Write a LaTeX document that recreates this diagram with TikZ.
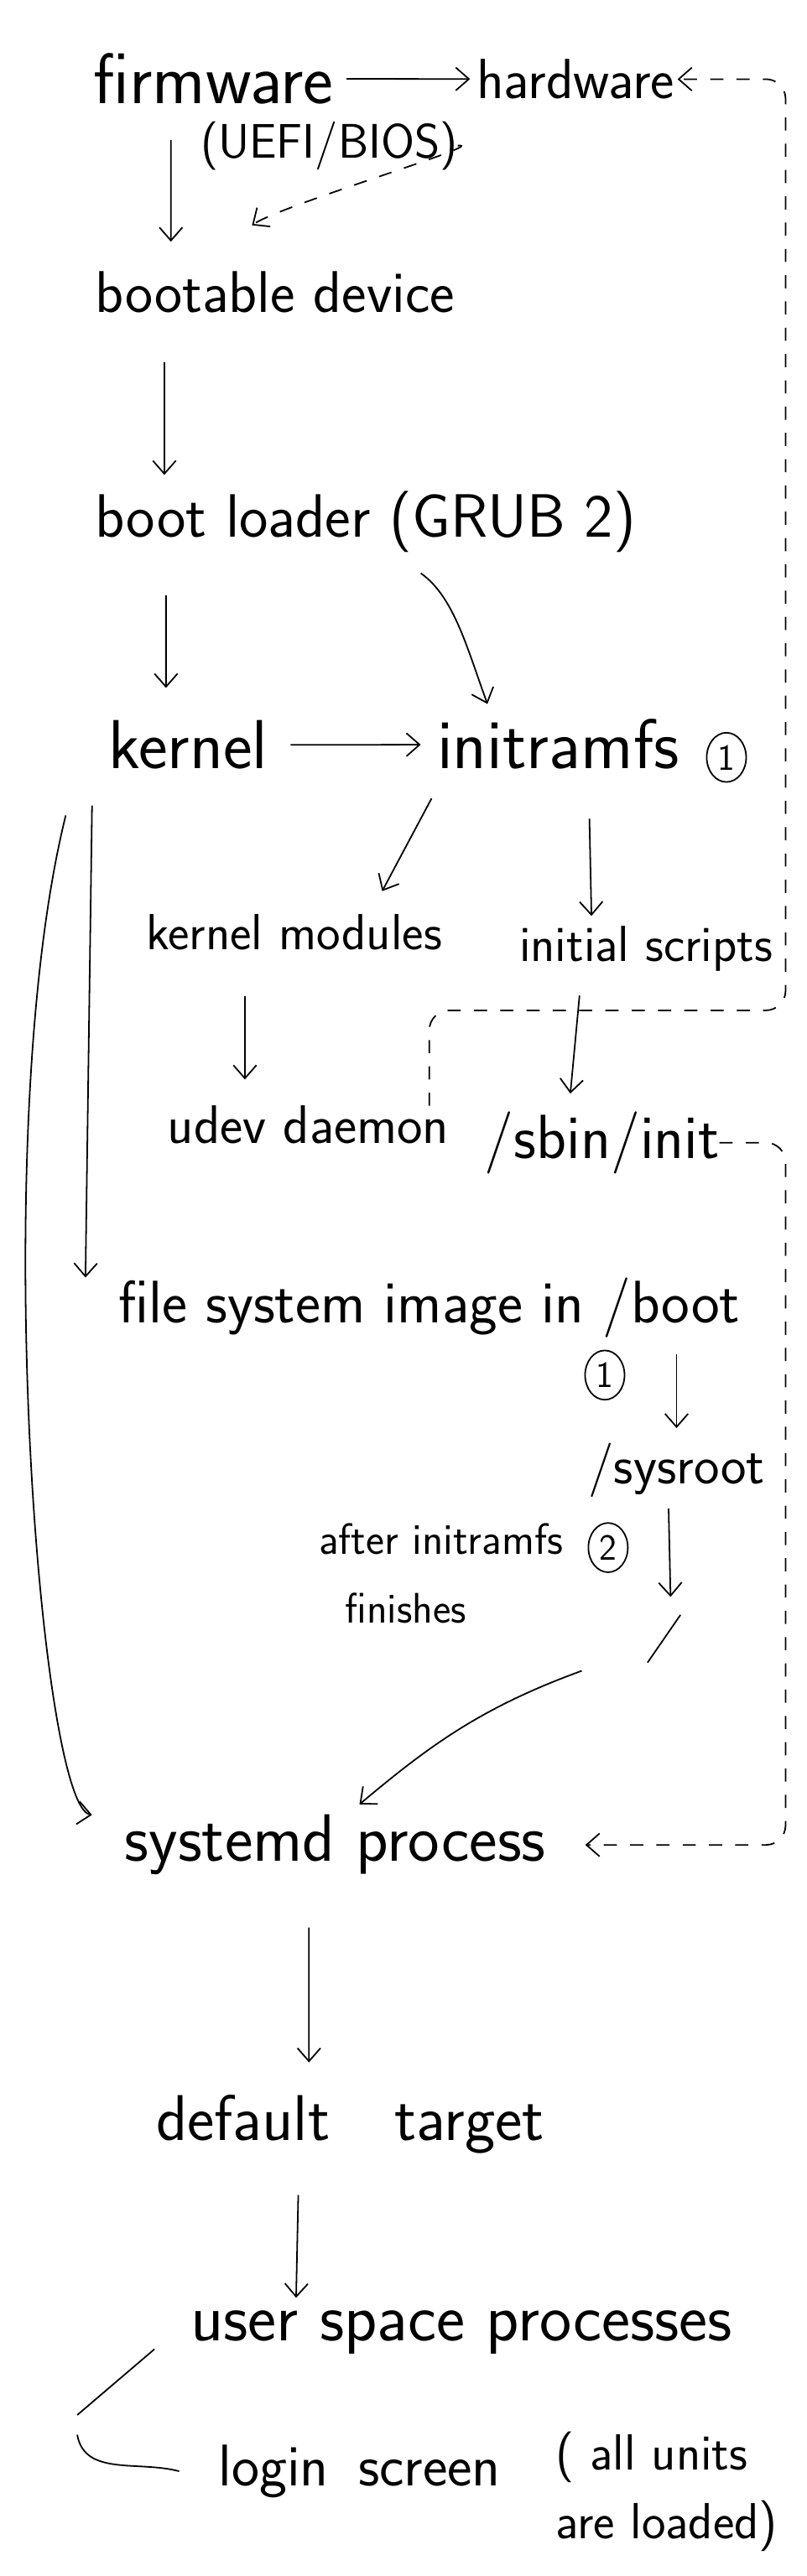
\documentclass[tikz,border=0pt]{standalone}
\usepackage{tikz}
\usetikzlibrary{arrows.meta,shapes.geometric}

\begin{document}
\begin{tikzpicture}[x=0.5mm,y=-0.5mm,>={Straight Barb[length=4mm,width=7mm]},line width=1.3pt,
	lbl/.style={inner sep=0pt,outer sep=0pt,anchor=base west,font=\sffamily\fontsize{52}{60}\selectfont},
	sz/.style={font=\sffamily\fontsize{#1}{#1}\selectfont},
	num/.style={draw,ellipse,inner sep=0pt,minimum width=12mm,minimum height=15mm,font=\sffamily\fontsize{32}{32}\selectfont},
	dsh/.style={dash pattern=on 4mm off 4mm}]

\useasboundingbox (0,0) rectangle (491,1568);

\node[lbl,sz=62]	(fw)	at (57,63)	{firmware};
 \node[lbl,sz=42]	(uefi)	at (122,96)	{(UEFI/BIOS)};
	\node[lbl,sz=49]	(hw)	at (290,60)	{hardware};
\node[lbl,sz=51]	(bd)	at (58,190)	{bootable device};
\node[lbl,sz=53]	(bl)	at (58,327)	{boot loader (GRUB 2)};
\node[lbl,sz=60]	(kern)	at (66,468)	{kernel};
	\node[lbl,sz=61]	(irfs)	at (266,468)	{initramfs};
	\node[num]	(n1)	at (442,461)	{1};
\node[lbl,sz=44]	(kmod)	at (89,578)	{kernel modules};
	\node[lbl,sz=44]	(iscr)	at (316,585)	{initial scripts};
\node[lbl,sz=47]	(udev)	at (102,696)	{udev daemon};
	\node[lbl,sz=54]	(sbin)	at (295,705)	{/sbin/init};
\node[lbl]	(fsi)	at (72,805)	{file system image in /boot};
	\node[num]	(n1b)	at (368,837)	{1};
	\node[lbl,sz=47]	(sysr)	at (358,903)	{/sysroot};
\node[lbl,sz=38]	(aft)	at (194,946)	{after initramfs};
	\node[num]	(n2)	at (370,942)	{2};
\node[lbl,sz=37]	(fin)	at (210,988)	{finishes};
\node[lbl,sz=58]	(sysd)	at (76,1133)	{systemd process};
\node[lbl,sz=56]	(dt)	at (95,1303)	{default\quad target};
\node[lbl,sz=59]	(usp)	at (116,1425)	{user space processes};
\node[lbl,sz=51]	(login)	at (133,1513)	{login\enspace screen};
	\node[lbl,anchor=north west,align=left,font=\sffamily\fontsize{44}{60}\selectfont]	(note)	at (338,1480)	{( all units\\are loaded)};

\coordinate (rt1) at (478,615);
\coordinate (rt2) at (478,900);
\coordinate (s1) at (408,972);
\coordinate (s2) at (414,983);
\coordinate (s3) at (394,1012);
\coordinate (s4) at (354,1017);
\coordinate (bk) at (47,1470);

\path[->] (fw) edge[shorten <=4mm,shorten >=2mm] (hw)
		([xshift=23.5mm]fw.south west) edge[shorten <=11mm,shorten >=9mm] ([xshift=23mm]bd.north west)
	([xshift=21mm]bd.south west) edge[shorten <=15mm,shorten >=5mm] ([xshift=21mm]bl.north west)
	([xshift=21.5mm]bl.south west) edge[shorten <=13mm,shorten >=10mm] ([xshift=17.5mm]kern.north west)
	([xshift=90mm]bl.south west) edge[out=-35,in=110,shorten <=11mm,shorten >=5mm] ([xshift=17mm]irfs.north west)
		(kern) edge[shorten <=7mm,shorten >=5mm] (irfs)
	([xshift=3mm]irfs.south west) edge[shorten <=10mm,shorten >=8mm] ([xshift=68mm]kmod.north west)
	([xshift=46mm]irfs.south west) edge[shorten <=15mm,shorten >=3mm] ([xshift=22mm]iscr.north west)
	([xshift=30mm]kmod.south west) edge[shorten <=14mm,shorten >=8mm] ([xshift=23.5mm]udev.north west)
	([xshift=19mm]iscr.south west) edge[shorten <=7.5mm,shorten >=5.5mm] ([xshift=25.5mm]sbin.north west)
		(sysr.north |- fsi.south) edge[shorten <=5mm,shorten >=4.5mm] (sysr.north)
		([xshift=-2.5mm]sysr.south) edge[shorten <=3.5mm] (s1)
	([xshift=56mm]sysd.south west) edge[shorten <=16mm,shorten >=10mm] ([xshift=46.5mm]dt.north west)
	([xshift=43.5mm]dt.south west) edge[shorten <=12.5mm,shorten >=4mm] ([xshift=32mm]usp.north west);

\draw[->,dsh] (uefi.east) to[out=5,in=35,looseness=0.4] ([xshift=-7mm,yshift=14mm]bd.north);
\draw[->,dsh,rounded corners=6mm,shorten >=1mm] ([xshift=-6mm]udev.north east) |- (rt1) |- (hw.east);
\draw[->,dsh,rounded corners=6mm,shorten >=12mm] (sbin.east) -| (rt2) |- (sysd.east);

\draw[->] ([xshift=-5mm,yshift=-11mm]kern.south west) -- ([xshift=-10mm]fsi.north west);
\draw[->] ([xshift=-13mm,yshift=-14mm]kern.south west) .. controls (-8,690) and (24,1100) .. ([xshift=-10mm]sysd.north west);

\draw (s2) -- (s3);
\draw[->,shorten >=5mm] (s4) to[out=200,in=40] ([xshift=3.5mm]sysd.north);

\draw ([xshift=-11mm,yshift=-5mm]usp.west) -- (bk) ([yshift=-6mm]bk) to[out=-80,in=165] ([xshift=-12mm]login.west);
\end{tikzpicture}
\end{document}
